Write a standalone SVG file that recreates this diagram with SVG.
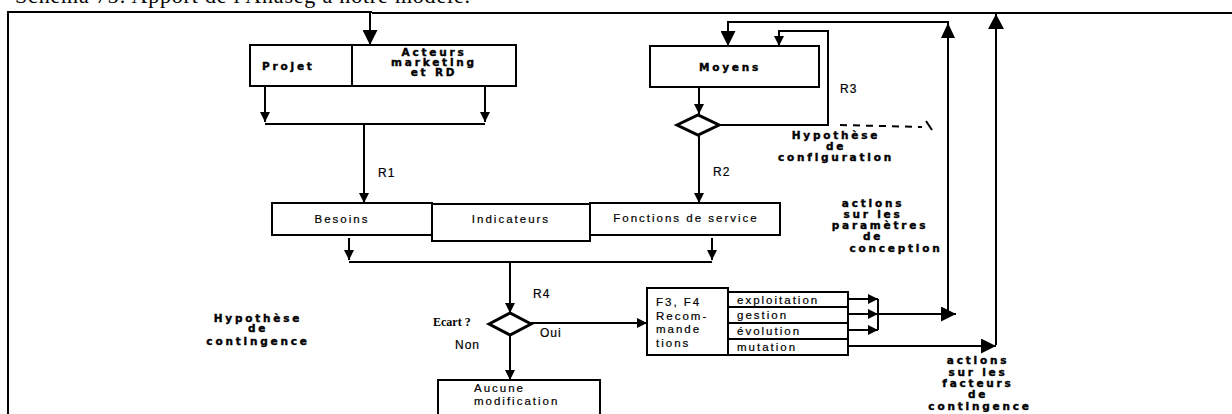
<svg xmlns="http://www.w3.org/2000/svg" width="1232" height="414" viewBox="0 0 1232 414">
<style>
  .bx{fill:#fff;stroke:#000;stroke-width:2}
  .dm{fill:#fff;stroke:#000;stroke-width:3}
  .ln{fill:none;stroke:#000;stroke-width:2}
  .hb{font-family:"DejaVu Sans",Verdana,sans-serif;font-weight:bold;font-size:10.5px;letter-spacing:2.8px;fill:#000;stroke:#000;stroke-width:0.4}
  .sn{font-family:"Liberation Sans",Arial,sans-serif;font-size:11.5px;letter-spacing:2px;fill:#000;stroke:#000;stroke-width:0.2}
  .rl{font-family:"Liberation Sans",Arial,sans-serif;font-size:12px;letter-spacing:1px;fill:#000;stroke:#000;stroke-width:0.2}
  .c{text-anchor:middle}
</style>
<defs>
  <marker id="a" viewBox="0 0 10 10" refX="10" refY="5" markerWidth="11" markerHeight="10" markerUnits="userSpaceOnUse" orient="auto">
    <path d="M0,0 L10,5 L0,10 z" fill="#000"/>
  </marker>
  <marker id="b" viewBox="0 0 10 10" refX="10" refY="5" markerWidth="15" markerHeight="15" markerUnits="userSpaceOnUse" orient="auto">
    <path d="M0,0 L10,5 L0,10 z" fill="#000"/>
  </marker>
</defs>
<rect width="1232" height="414" fill="#fff"/>
<text x="15" y="3" font-family="'Liberation Serif',serif" font-size="22" textLength="455" lengthAdjust="spacing">Schéma 75: Apport de l'Anaseg à notre modèle.</text>

<g id="connectors">
  <path class="ln" d="M8,414 V12 H372" stroke-width="1.5"/>
  <path class="ln" d="M372,13 H1232" stroke-width="3"/>
  <path class="ln" d="M370,13 V45" marker-end="url(#b)"/>
  <path class="ln" d="M265,86 V122" marker-end="url(#a)"/>
  <path class="ln" d="M485,86 V122" marker-end="url(#a)"/>
  <path class="ln" d="M265,124 H485"/>
  <path class="ln" d="M364,124 V203" marker-end="url(#a)"/>
  <path class="ln" d="M699,87 V114" marker-end="url(#a)"/>
  <path class="ln" d="M719,125 H828 V31 H779 V46" marker-end="url(#a)"/>
  <path class="ln" d="M948,313 V22 H728 V46" marker-end="url(#b)"/>
  <polygon points="948,23 941,38 955,38" fill="#000"/>
  <path class="ln" d="M996,345 V13" stroke-width="2.5"/>
  <polygon points="996,14 988,29 1004,29" fill="#000"/>
  <path class="ln" d="M699,136 V203" marker-end="url(#a)"/>
  <path class="ln" d="M840,125 L922,127" stroke-width="2.5" stroke-dasharray="7,6"/>
  <path class="ln" d="M926,121 L932,130" stroke-width="3"/>
  <path class="ln" d="M349,238 V260" marker-end="url(#a)"/>
  <path class="ln" d="M712,238 V260" marker-end="url(#a)"/>
  <path class="ln" d="M349,262 H712"/>
  <path class="ln" d="M510,262 V313" marker-end="url(#a)"/>
  <path class="ln" d="M531,323 H647" marker-end="url(#a)"/>
  <path class="ln" d="M510,335 V380" marker-end="url(#a)"/>
  <path class="ln" d="M848,299 H878" marker-end="url(#a)"/>
  <path class="ln" d="M848,314 H878" marker-end="url(#a)"/>
  <path class="ln" d="M848,330 H878" marker-end="url(#a)"/>
  <path class="ln" d="M878,299 V330"/>
  <path class="ln" d="M878,314 H956" marker-end="url(#b)"/>
  <path class="ln" d="M848,346 H996" marker-end="url(#b)"/>
  <text class="rl" x="378" y="177">R1</text>
  <text class="rl" x="713" y="176">R2</text>
  <text class="rl" x="840" y="93">R3</text>
  <text class="rl" x="533" y="298">R4</text>
  <text class="rl" x="540" y="337">Oui</text>
  <text class="rl" x="455" y="349">Non</text>
</g>

<g id="node-projet-acteurs">
  <rect class="bx" x="250" y="45" width="266" height="41"/>
  <line class="ln" x1="352" y1="45" x2="352" y2="86"/>
  <text class="hb" x="262" y="70">Projet</text>
  <text class="hb c" x="434" y="56" font-size="9.5" letter-spacing="2.5">Acteurs</text>
  <text class="hb c" x="434" y="66" font-size="9.5" letter-spacing="2.5">marketing</text>
  <text class="hb c" x="434" y="76" font-size="9.5" letter-spacing="2.5">et RD</text>
</g>

<g id="node-moyens">
  <rect class="bx" x="650" y="46" width="169" height="41"/>
  <text class="hb c" x="730" y="71">Moyens</text>
</g>

<g id="node-decision-r3">
  <polygon class="dm" points="677,125 698,115 719,125 698,135"/>
</g>

<g id="label-configuration">
  <text class="hb c" x="836" y="139">Hypothèse</text>
  <text class="hb c" x="836" y="150">de</text>
  <text class="hb c" x="836" y="161">configuration</text>
</g>

<g id="node-besoins">
  <rect class="bx" x="272" y="203" width="160" height="32"/>
  <text class="sn c" x="342" y="223">Besoins</text>
</g>
<g id="node-indicateurs">
  <rect class="bx" x="432" y="204" width="158" height="37"/>
  <text class="sn c" x="511" y="223">Indicateurs</text>
</g>
<g id="node-fonctions">
  <rect class="bx" x="590" y="203" width="190" height="32"/>
  <text class="sn c" x="686" y="222" font-size="12" letter-spacing="3">Fonctions de service</text>
</g>

<g id="label-parametres">
  <text class="hb c" x="873" y="207">actions</text>
  <text class="hb c" x="873" y="218">sur les</text>
  <text class="hb c" x="880" y="229">paramètres</text>
  <text class="hb c" x="873" y="240">de</text>
  <text class="hb c" x="896" y="252">conception</text>
</g>

<g id="label-contingence">
  <text class="hb c" x="258" y="322">Hypothèse</text>
  <text class="hb c" x="258" y="332">de</text>
  <text class="hb c" x="258" y="345">contingence</text>
</g>

<g id="node-ecart">
  <polygon class="dm" points="489,324 510,313 531,324 510,335"/>
  <text x="433" y="326" font-family="'Liberation Serif',serif" font-weight="bold" font-size="12">Ecart ?</text>
</g>

<g id="node-aucune">
  <rect class="bx" x="438" y="380" width="162" height="50"/>
  <text class="sn" x="474" y="392" letter-spacing="1">Aucune</text>
  <text class="sn" x="474" y="405" letter-spacing="1">modification</text>
</g>

<g id="node-recommandations">
  <rect class="bx" x="647" y="288" width="81" height="67"/>
  <text class="sn" x="656" y="306">F3, F4</text>
  <text class="sn" x="656" y="320">Recom-</text>
  <text class="sn" x="656" y="333">mande</text>
  <text class="sn" x="656" y="347">tions</text>
  <rect class="bx" x="728" y="292" width="120" height="63"/>
  <line class="ln" x1="728" y1="307" x2="848" y2="307"/>
  <line class="ln" x1="728" y1="323" x2="848" y2="323"/>
  <line class="ln" x1="728" y1="339" x2="848" y2="339"/>
  <text class="sn" x="737" y="304">exploitation</text>
  <text class="sn" x="737" y="319">gestion</text>
  <text class="sn" x="737" y="335">évolution</text>
  <text class="sn" x="737" y="351">mutation</text>
</g>

<g id="label-facteurs">
  <text class="hb c" x="978" y="364">actions</text>
  <text class="hb c" x="978" y="376">sur les</text>
  <text class="hb c" x="978" y="387">facteurs</text>
  <text class="hb c" x="978" y="398">de</text>
  <text class="hb c" x="980" y="410">contingence</text>
</g>
</svg>
